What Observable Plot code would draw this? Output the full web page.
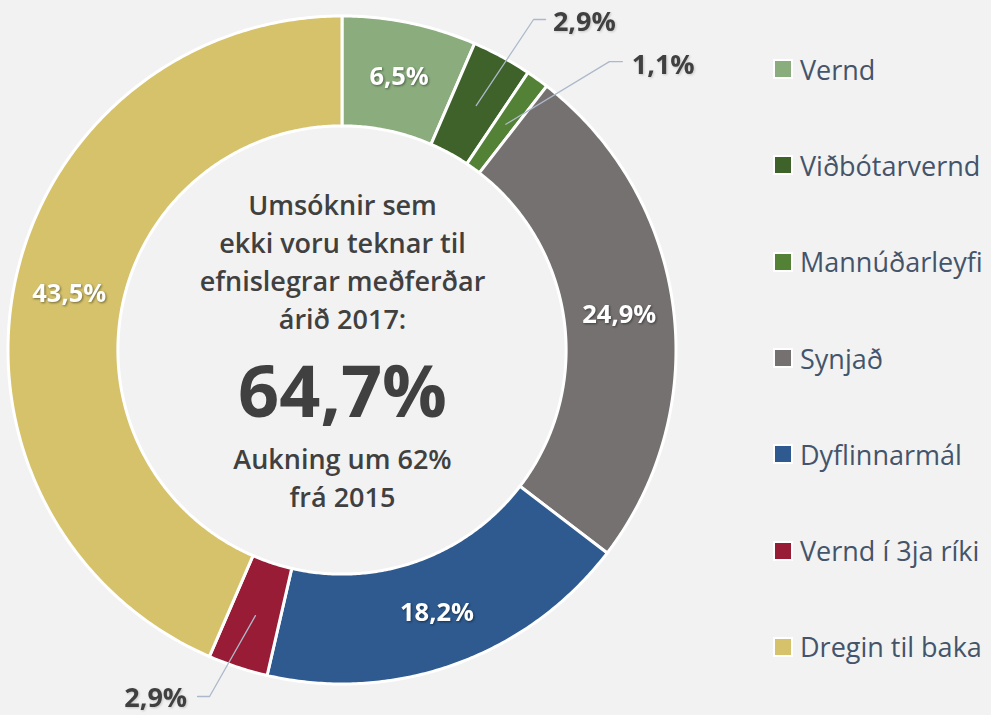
<!DOCTYPE html>
<html>
<head>
<meta charset="utf-8">
<script src="https://cdn.jsdelivr.net/npm/d3@7"></script>
<script src="https://cdn.jsdelivr.net/npm/@observablehq/plot@0.6"></script>
<style>
  html, body { margin: 0; padding: 0; background: #f2f2f2; }
  #wrap { position: relative; width: 991px; height: 715px; overflow: hidden; background: #f2f2f2; }
  #legend { position: absolute; left: 773px; top: 21px; font-family: "Open Sans", sans-serif; }
  .item { height: 96.3px; display: flex; align-items: center; font-size: 27px; color: #44546a; white-space: nowrap; }
  .sw { width: 16px; height: 16px; border: 2px solid #fff; margin-right: 7px; box-sizing: content-box; flex: none; }
  g.inner-lbl { filter: drop-shadow(1px 1.5px 1px rgba(0,0,0,0.45)); }
  g.outer-lbl { filter: drop-shadow(1px 1.5px 1px rgba(0,0,0,0.18)); }
</style>
</head>
<body>
<div id="wrap"><div id="legend"></div></div>
<script>
// ---- data ----
const categories = ["Vernd", "Viðbótarvernd", "Mannúðarleyfi", "Synjað", "Dyflinnarmál", "Vernd í 3ja ríki", "Dregin til baka"];
const values = [6.5, 2.9, 1.1, 24.9, 18.2, 2.9, 43.5];
const colors = ["#8bad7e", "#3e6229", "#538135", "#767171", "#2e5a8f", "#981c35", "#d5c26b"];
const centerTitle = ["Umsóknir sem", "ekki voru teknar til", "efnislegrar meðferðar", "árið 2017:"];
const centerValue = "64,7%";
const centerNote = ["Aukning um 62%", "frá 2015"];

// ---- layout (annotation placement, in donut units) ----
const innerRatio = 0.671;
const callouts = {
  1: {elbow: [0.572, 0.991], end: [0.608, 0.991], text: [0.630, 0.982], anchor: "start"},
  2: {elbow: [0.799, 0.865], end: [0.838, 0.865], text: [0.866, 0.853], anchor: "start"},
  5: {elbow: [-0.398, -1.036], end: [-0.434, -1.036], text: [-0.465, -1.040], anchor: "end"}
};

const fmt = v => v.toFixed(1).replace(".", ",") + "%";
const rows = categories.map((c, i) => ({cat: c, value: values[i], i}));
const arcs = d3.pie().sort(null).value(d => d.value)(rows);

const ring = [];
const midPts = [];
for (const a of arcs) {
  const n = Math.max(2, Math.ceil((a.endAngle - a.startAngle) / (Math.PI / 360)));
  for (let k = 0; k <= n; k++) {
    const t = a.startAngle + (a.endAngle - a.startAngle) * k / n;
    ring.push({cat: a.data.cat, xo: Math.sin(t), yo: Math.cos(t), xi: innerRatio * Math.sin(t), yi: innerRatio * Math.cos(t)});
  }
  const m = (a.startAngle + a.endAngle) / 2, rm = (1 + innerRatio) / 2;
  midPts.push({i: a.data.i, cat: a.data.cat, value: a.data.value, x: rm * Math.sin(m), y: rm * Math.cos(m)});
}
const insideLabels = midPts.filter(d => !(d.i in callouts));
const leaders = [];
const outsideLabels = [];
for (const d of midPts) {
  const c = callouts[d.i];
  if (!c) continue;
  leaders.push({id: d.i, x: d.x, y: d.y}, {id: d.i, x: c.elbow[0], y: c.elbow[1]}, {id: d.i, x: c.end[0], y: c.end[1]});
  outsideLabels.push({x: c.text[0], y: c.text[1], anchor: c.anchor, label: fmt(d.value)});
}

const chart = Plot.plot({
  width: 991, height: 715,
  marginLeft: 8, marginRight: 315, marginTop: 16, marginBottom: 31,
  x: {domain: [-1, 1], axis: null},
  y: {domain: [-1, 1], axis: null},
  color: {domain: categories, range: colors},
  style: {background: "#f2f2f2", fontFamily: "Open Sans, sans-serif", overflow: "visible"},
  marks: [
    Plot.area(ring, {x1: "xo", y1: "yo", x2: "xi", y2: "yi", z: "cat", fill: "cat", stroke: "white", strokeWidth: 3}),
    Plot.line(leaders, {x: "x", y: "y", z: "id", stroke: "#adb9ca", strokeWidth: 1.3}),
    Plot.text(insideLabels, {x: "x", y: "y", text: d => fmt(d.value), fill: "white", fontSize: 25.5, fontWeight: 700}),
    Plot.text(outsideLabels.filter(d => d.anchor === "start"), {x: "x", y: "y", text: "label", textAnchor: "start", fill: "#404040", fontSize: 27, fontWeight: 700}),
    Plot.text(outsideLabels.filter(d => d.anchor === "end"), {x: "x", y: "y", text: "label", textAnchor: "end", fill: "#404040", fontSize: 27, fontWeight: 700}),
    Plot.text([centerTitle.join("\n")], {x: 0, y: 0, text: d => d, dy: -91, lineHeight: 1.41, fontSize: 27, fontWeight: 600, fill: "#404040"}),
    Plot.text([centerValue], {x: 0, y: 0, text: d => d, dy: 43, fontSize: 72, fontWeight: 700, fill: "#404040"}),
    Plot.text([centerNote.join("\n")], {x: 0, y: 0, text: d => d, dy: 125, lineHeight: 1.41, fontSize: 27, fontWeight: 600, fill: "#404040"})
  ]
});

// shadows on labels
chart.querySelectorAll('g[aria-label="text"]').forEach((g, k) => {
  if (k === 0) g.classList.add("inner-lbl");
  else if (k === 1 || k === 2) g.classList.add("outer-lbl");
});
chart.style.position = "absolute";
chart.style.left = "0";
chart.style.top = "0";
const wrap = document.getElementById("wrap");
wrap.insertBefore(chart, wrap.firstChild);

const legend = document.getElementById("legend");
categories.forEach((c, i) => {
  const it = document.createElement("div");
  it.className = "item";
  const sw = document.createElement("div");
  sw.className = "sw";
  sw.style.background = colors[i];
  const tx = document.createElement("span");
  tx.textContent = c;
  it.appendChild(sw);
  it.appendChild(tx);
  legend.appendChild(it);
});
</script>
</body>
</html>
